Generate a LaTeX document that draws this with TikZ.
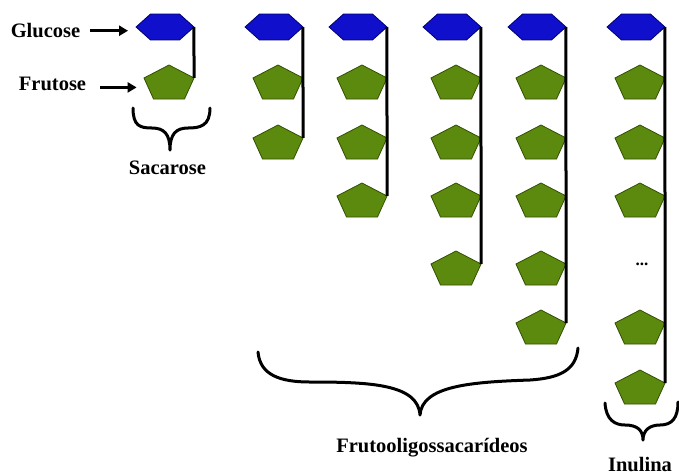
\documentclass[tikz,border=0pt]{standalone}
\usepackage{fontspec}
\setmainfont{Liberation Serif}
\usetikzlibrary{shapes.geometric,arrows.meta}
\definecolor{hexfill}{RGB}{16,16,204}
\definecolor{hexline}{RGB}{0,0,110}
\definecolor{penfill}{RGB}{92,138,14}
\definecolor{penline}{RGB}{50,80,0}
\begin{document}
\begin{tikzpicture}[x=1pt,y=-1pt,
 hexa/.style={regular polygon, regular polygon sides=6, minimum size=30pt, inner sep=0pt, outer sep=0pt, xscale=1.93, fill=hexfill, draw=hexline, line width=0.8pt},
 penta/.style={regular polygon, regular polygon sides=5, minimum size=37.6pt, inner sep=0pt, outer sep=0pt, xscale=1.4, fill=penfill, draw=penline, line width=0.8pt},
 chain/.style={line width=3pt, black},
 lbl/.style={font=\fontsize{20.5}{24}\selectfont\bfseries, inner sep=0pt, anchor=base},
 arr/.style={line width=3pt, -{Triangle[length=9pt,width=10pt]}},
 brace/.style={line width=3pt, line cap=round, line join=round}]
\clip (0,0) rectangle (679,475);
\fill[white] (0,0) rectangle (679,475);
% column 1
\node[hexa] (h1) at (165,27) {};
\node[penta] (p1a) at (169,83.8) {};
\draw[chain] (h1.east) -- (p1a.corner 5);
% column 2
\node[hexa] (h2) at (274,27) {};
\node[penta] (p2a) at (278,83.8) {};
\node[penta] (p2b) at (278,143.8) {};
\draw[chain] (h2.east) -- (p2b.corner 5);
% column 3
\node[hexa] (h3) at (358,27) {};
\node[penta] (p3a) at (362,83.8) {};
\node[penta] (p3b) at (362,143.8) {};
\node[penta] (p3c) at (362,201.8) {};
\draw[chain] (h3.east) -- (p3c.corner 5);
% column 4
\node[hexa] (h4) at (452,27) {};
\node[penta] (p4a) at (456,83.8) {};
\node[penta] (p4b) at (456,143.8) {};
\node[penta] (p4c) at (456,201.8) {};
\node[penta] (p4d) at (456,269.8) {};
\draw[chain] (h4.east) -- (p4d.corner 5);
% column 5
\node[hexa] (h5) at (537,27) {};
\node[penta] (p5a) at (541,83.8) {};
\node[penta] (p5b) at (541,143.8) {};
\node[penta] (p5c) at (541,201.8) {};
\node[penta] (p5d) at (541,269.8) {};
\node[penta] (p5e) at (541,328.8) {};
\draw[chain] (h5.east) -- (p5e.corner 5);
% column 6
\node[hexa] (h6) at (636,27) {};
\node[penta] (p6a) at (640,83.8) {};
\node[penta] (p6b) at (640,143.8) {};
\node[penta] (p6c) at (640,201.8) {};
\node[font=\fontsize{17}{18}\selectfont\bfseries, inner sep=0pt, anchor=base] (dots) at (642,265) {...};
\node[penta] (p6e) at (640,328.8) {};
\node[penta] (p6f) at (640,388.8) {};
\draw[chain] (h6.east) -- (p6f.corner 5);
% labels
\node[lbl] (glc) at (45.5,37.7) {Glucose};
\node[lbl] (fru) at (52.5,90) {Frutose};
\node[lbl] (sac) at (167.5,174) {Sacarose};
\node[lbl] (fos) at (432,452) {Frutooligossacarídeos};
\node[lbl] (inu) at (640,471.5) {Inulina};
% arrows
\draw[arr, shorten <=10pt, shorten >=8pt] (glc.east) -- (glc.east -| h1.west);
\draw[arr, shorten <=14pt, shorten >=10pt] ([yshift=-4pt]fru.east) -- ([yshift=-4pt]fru.east -| p1a.west);
% braces
\draw[brace] (133,108) .. controls (133,126) and (140,128) .. (152,128) .. controls (164,128) and (170,134) .. (170,150) .. controls (170,134) and (176,128) .. (188,128) .. controls (200,128) and (210,126) .. (210,108);
\draw[brace] (258,352) .. controls (260,375) and (280,382) .. (310,382) .. controls (370,382) and (418,384) .. (420,415) .. controls (422,386) and (470,382) .. (530,380) .. controls (560,378) and (576,370) .. (578,348);
\draw[brace] (605,403) .. controls (606,420) and (615,425) .. (625,425) .. controls (637,425) and (643,430) .. (643,440) .. controls (643,430) and (650,425) .. (660,425) .. controls (672,425) and (678,418) .. (678,402);
\end{tikzpicture}
\end{document}
